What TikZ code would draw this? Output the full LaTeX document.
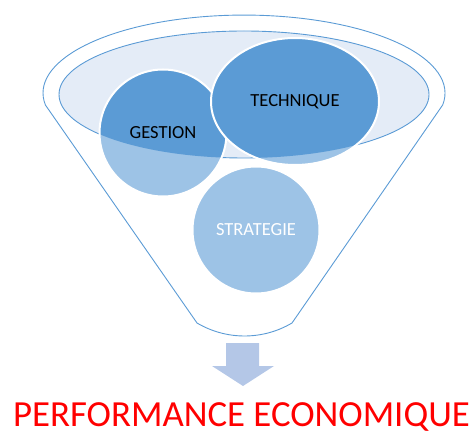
\documentclass[tikz,border=0pt]{standalone}
\usepackage{fontspec}
\setmainfont{Carlito}
\usepackage{tikz}
\usetikzlibrary{shapes.geometric}
\definecolor{funnel_blue}{RGB}{91,155,213}
\definecolor{bowl_fill}{RGB}{228,236,247}
\definecolor{disc_pale}{RGB}{157,195,230}
\definecolor{arrow_fill}{RGB}{180,199,231}
\definecolor{title_red}{RGB}{255,0,0}

\begin{document}
\begin{tikzpicture}[x=1pt,y=1pt]
    \tikzstyle{funnel}=[draw=funnel_blue, line width=0.9pt]
    \tikzstyle{bowl}=[ellipse, draw=funnel_blue, line width=0.9pt, fill=bowl_fill, minimum width=370pt, minimum height=127pt, inner sep=0pt]
    \tikzstyle{disc}=[circle, draw=white, line width=2pt, fill=disc_pale, minimum size=127pt, inner sep=0pt, font=\fontsize{18.5}{22}\selectfont,
        path picture={\fill[funnel_blue] (bowl.center) ellipse [x radius=185pt, y radius=63.5pt];}]
    \tikzstyle{oval}=[style=disc, ellipse, minimum width=168pt, minimum height=127pt]
    \tikzstyle{title}=[text=title_red, font=\fontsize{36.8}{40}\selectfont, anchor=base, inner sep=0pt]

    \useasboundingbox (0,0) rectangle (476,434);

    % funnel body
    \draw[funnel] (45.4,329) arc[start angle=188.8, end angle=-8.8, x radius=201pt, y radius=78pt]
        -- (292,111) arc[start angle=-59.4, end angle=-120.6, radius=93.3pt] -- cycle;

    \node[bowl] (bowl) at (244,339.5) {};

    \node[disc] (gestion)   at (163,301) {GESTION};
    \node[oval] (technique) at (295,332.5) {TECHNIQUE};
    \node[disc, text=white] (strategie) at (256,204) {STRATEGIE};

    % block arrow
    \fill[arrow_fill] (226,91) -- (259,91) -- (259,68) -- (274,68) -- (243,48) -- (212,68) -- (226,68) -- cycle;

    \node[title] (perf) at (241.5,7.5) {PERFORMANCE ECONOMIQUE};
\end{tikzpicture}
\end{document}
